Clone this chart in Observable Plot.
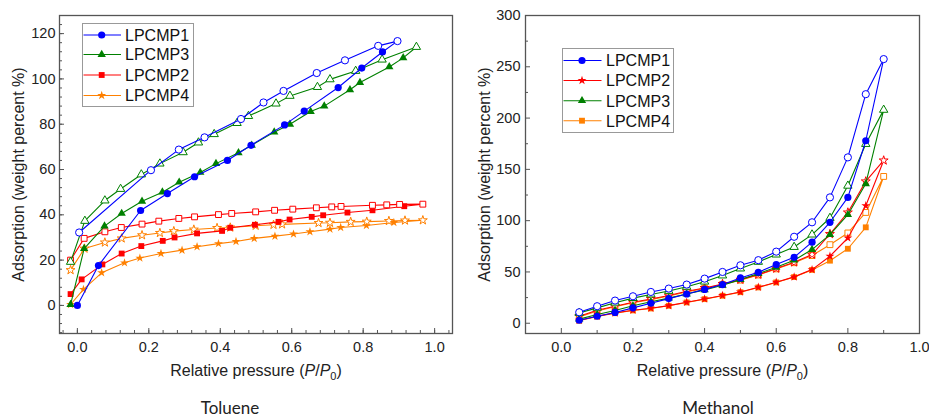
<!DOCTYPE html>
<html><head><meta charset="utf-8">
<script src="https://cdn.jsdelivr.net/npm/d3@7"></script>
<script src="https://cdn.jsdelivr.net/npm/@observablehq/plot@0.6"></script>
<style>
html,body{margin:0;padding:0;background:#fff;}
body{width:929px;height:418px;position:relative;overflow:hidden;font-family:"Liberation Sans",Arial,sans-serif;}
.panel{position:absolute;top:0;}
.caption{position:absolute;top:399px;font-family:Lato,"Open Sans",sans-serif;font-size:17px;line-height:17px;color:#222;transform:translateX(-50%);white-space:nowrap;}
</style></head><body>
<div id="left" class="panel" style="left:0px"></div>
<div id="right" class="panel" style="left:465px"></div>
<div class="caption" style="left:230px">Toluene</div>
<div class="caption" style="left:718px">Methanol</div>
<script>
// ---------------- DATA ----------------
const seriesNames = ["LPCMP1", "LPCMP2", "LPCMP3", "LPCMP4"];
const seriesColors = ["#0000ff", "#ff0000", "#008000", "#ff8000"];

// Toluene panel: [P/P0, adsorption wt%]; adsorption (filled) then desorption (open)
const tol_LPCMP1_ads = [[0.000,0.0],[0.059,17.6],[0.177,41.9],[0.252,49.4],[0.328,56.8],[0.420,64.0],[0.486,70.7],[0.580,79.7],[0.635,85.8],[0.730,96.2],[0.796,104.8],[0.854,111.9]];
const tol_LPCMP1_des = [[0.896,116.7],[0.842,114.6],[0.749,108.2],[0.670,102.6],[0.577,94.7],[0.521,89.6],[0.458,82.3],[0.356,74.2],[0.284,68.8],[0.206,59.7],[0.005,32.2]];
const tol_LPCMP3_ads = [[-0.019,0.4],[0.019,25.1],[0.076,35.0],[0.124,40.6],[0.181,46.0],[0.238,50.0],[0.285,54.4],[0.344,58.7],[0.388,62.6],[0.451,67.4],[0.488,70.7],[0.551,76.5],[0.595,80.0],[0.653,85.6],[0.691,88.0],[0.763,95.2],[0.791,98.4],[0.873,105.3],[0.912,109.3]];
const tol_LPCMP3_des = [[0.949,114.1],[0.853,108.5],[0.779,103.5],[0.707,99.8],[0.672,96.4],[0.595,92.5],[0.556,89.1],[0.479,83.6],[0.447,80.5],[0.383,75.6],[0.339,71.9],[0.296,67.6],[0.231,62.6],[0.179,57.8],[0.121,51.4],[0.077,46.3],[0.021,37.3],[-0.019,19.2]];
const tol_LPCMP2_ads = [[-0.019,5.0],[0.012,11.5],[0.070,18.1],[0.124,22.9],[0.179,26.2],[0.239,28.5],[0.272,30.0],[0.335,31.8],[0.405,32.9],[0.428,34.3],[0.497,35.6],[0.563,36.9],[0.594,37.9],[0.656,39.1],[0.688,39.8],[0.756,41.0],[0.826,42.0],[0.915,43.8]];
const tol_LPCMP2_des = [[0.967,44.7],[0.902,44.6],[0.866,44.4],[0.826,44.2],[0.738,43.7],[0.712,43.5],[0.669,43.1],[0.603,42.5],[0.552,42.0],[0.499,41.3],[0.432,40.6],[0.395,40.1],[0.328,39.1],[0.284,38.4],[0.228,37.2],[0.181,35.9],[0.123,34.4],[0.077,32.5],[0.019,29.6],[-0.019,20.0]];
const tol_LPCMP4_ads = [[-0.019,0.4],[0.017,7.1],[0.068,14.4],[0.132,18.8],[0.175,20.9],[0.234,22.9],[0.293,24.4],[0.335,25.9],[0.395,27.3],[0.444,28.2],[0.495,29.6],[0.553,30.6],[0.605,31.5],[0.651,32.5],[0.707,33.7],[0.737,34.4],[0.809,35.3],[0.886,36.6]];
const tol_LPCMP4_des = [[0.967,37.6],[0.917,37.5],[0.872,37.3],[0.810,37.0],[0.765,36.9],[0.707,36.5],[0.675,36.4],[0.573,35.8],[0.549,35.6],[0.499,35.2],[0.428,34.4],[0.391,34.2],[0.326,33.5],[0.270,32.8],[0.231,32.0],[0.181,31.0],[0.124,29.6],[0.077,27.8],[0.020,25.1],[-0.019,15.6]];

// Methanol panel: relative pressures; adsorption at 0.05..0.85, desorption at 0.05..0.90
const meth_P = [0.05,0.10,0.15,0.20,0.25,0.30,0.35,0.40,0.45,0.50,0.55,0.60,0.65,0.70,0.75,0.80,0.85,0.90];
const meth_LPCMP1_ads = [2.9,6.8,10.5,15.0,19.5,24.0,28.5,33.0,37.7,44.2,49.7,57.2,64.3,79.0,98.4,122.7,177.9];
const meth_LPCMP1_des = [10.7,16.6,22.1,26.3,30.5,33.8,37.7,43.5,50.0,56.5,61.5,69.8,84.3,98.4,122.7,161.7,223.3,257.5];
const meth_LPCMP2_ads = [2.9,6.8,10.1,12.7,14.6,17.2,20.5,23.7,27.0,30.5,35.1,40.0,45.2,52.3,65.3,83.1,114.6];
const meth_LPCMP2_des = [6.8,12.7,16.6,20.5,23.7,27.0,31.2,34.4,38.3,42.5,47.4,53.3,59.4,66.9,87.0,108.0,138.3,158.7];
const meth_LPCMP3_ads = [4.0,8.5,12.5,17.0,21.0,24.5,28.5,32.5,37.0,42.5,48.5,54.5,61.5,71.8,86.4,105.8,136.0];
const meth_LPCMP3_des = [10.0,15.0,20.0,24.5,28.0,31.5,35.5,40.5,46.5,53.3,59.8,66.9,74.3,86.4,102.6,134.0,174.7,208.0];
const meth_LPCMP4_ads = [2.5,6.5,9.8,12.5,14.4,17.0,20.3,23.5,26.8,30.3,34.9,39.8,45.0,52.0,61.0,72.6,93.5];
const meth_LPCMP4_des = [6.0,12.0,16.0,20.0,23.0,26.5,30.5,34.0,37.8,42.0,47.0,53.0,59.0,66.0,76.6,88.0,108.0,143.1];

// Ticks
const tol_xMajor = [0,0.2,0.4,0.6,0.8,1.0];
const tol_xMinor = d3.range(-0.04, 1.05, 0.04).map(v => +v.toFixed(2));
const tol_yMajor = [0,20,40,60,80,100,120];
const tol_yMinor = d3.range(-12, 128, 4);
const meth_xMajor = [0,0.2,0.4,0.6,0.8,1.0];
const meth_xMinor = [0.1,0.3,0.5,0.7,0.9];
const meth_yMajor = [0,50,100,150,200,250,300];
const meth_yMinor = [25,75,125,175,225,275];

const tol_symbols = {LPCMP1: "circle", LPCMP3: "triangle", LPCMP2: "square", LPCMP4: "star"};
const meth_symbols = {LPCMP1: "circle", LPCMP2: "star", LPCMP3: "triangle", LPCMP4: "square"};
const tol_legendOrder = ["LPCMP1", "LPCMP3", "LPCMP2", "LPCMP4"];
const meth_legendOrder = ["LPCMP1", "LPCMP2", "LPCMP3", "LPCMP4"];
const drawOrder = ["LPCMP4", "LPCMP2", "LPCMP3", "LPCMP1"];

// ---------------- BUILD ----------------
const colorOf = Object.fromEntries(seriesNames.map((s, i) => [s, seriesColors[i]]));
const toPts = arr => arr.map(([x, y]) => ({x, y}));
const tolData = {
  LPCMP1: {ads: toPts(tol_LPCMP1_ads), des: toPts(tol_LPCMP1_des)},
  LPCMP2: {ads: toPts(tol_LPCMP2_ads), des: toPts(tol_LPCMP2_des)},
  LPCMP3: {ads: toPts(tol_LPCMP3_ads), des: toPts(tol_LPCMP3_des)},
  LPCMP4: {ads: toPts(tol_LPCMP4_ads), des: toPts(tol_LPCMP4_des)}
};
function methSeries(ads, des) {
  return {
    ads: ads.map((y, i) => ({x: meth_P[i], y})),
    des: des.map((y, i) => ({x: meth_P[i], y})).reverse()
  };
}
const methData = {
  LPCMP1: methSeries(meth_LPCMP1_ads, meth_LPCMP1_des),
  LPCMP2: methSeries(meth_LPCMP2_ads, meth_LPCMP2_des),
  LPCMP3: methSeries(meth_LPCMP3_ads, meth_LPCMP3_des),
  LPCMP4: methSeries(meth_LPCMP4_ads, meth_LPCMP4_des)
};

const frameColor = "#555";
const symbolR = {circle: 3.6, triangle: 3.1, square: 3.3, star: 2.8};

function makePanel(opt) {
  const marks = [];
  for (const s of drawOrder) {
    const d = opt.data[s], c = colorOf[s], sym = opt.symbols[s];
    marks.push(Plot.line(d.ads.concat(d.des), {x: "x", y: "y", stroke: c, strokeWidth: 1.1}));
    marks.push(Plot.dot(d.ads, {x: "x", y: "y", symbol: sym, r: symbolR[sym], fill: c, stroke: "none"}));
    marks.push(Plot.dot(d.des, {x: "x", y: "y", symbol: sym, r: symbolR[sym], fill: "white", stroke: c, strokeWidth: 1}));
  }
  const noText = () => "";
  marks.push(
    Plot.frame({stroke: frameColor, strokeWidth: 1.3}),
    Plot.axisX({ticks: opt.xMajor, tickSize: 5, dy: -5, tickFormat: noText, stroke: frameColor, label: null}),
    Plot.axisX({ticks: opt.xMinor, tickSize: 3, dy: -3, tickFormat: noText, stroke: frameColor, label: null}),
    Plot.axisX({ticks: opt.xMajor, tickSize: 0, tickPadding: 8, tickFormat: d3.format(".1f"), fontSize: 14.5, label: null}),
    Plot.axisY({ticks: opt.yMajor, tickSize: 5, dx: 5, tickFormat: noText, stroke: frameColor, label: null}),
    Plot.axisY({ticks: opt.yMinor, tickSize: 3, dx: 3, tickFormat: noText, stroke: frameColor, label: null}),
    Plot.axisY({ticks: opt.yMajor, tickSize: 0, tickPadding: opt.yPad, tickFormat: d3.format("d"), fontSize: 14.5, label: null}),
    Plot.text(["Adsorption (weight percent %)"], {frameAnchor: "left", textAnchor: "middle", lineAnchor: "middle", rotate: -90, dx: -41, fontSize: 16, fill: "#222"}),
    Plot.text(["Relative pressure (P/P0)"], {frameAnchor: "bottom", textAnchor: "middle", lineAnchor: "middle", dy: 37, fontSize: 16, fill: "#222", className: "xlabel"})
  );
  const svg = Plot.plot({
    width: opt.width, height: 388,
    marginLeft: opt.marginLeft, marginRight: opt.marginRight, marginTop: 15, marginBottom: 55,
    x: {domain: opt.xDomain},
    y: {domain: opt.yDomain},
    style: {fontFamily: "'Liberation Sans', Arial, sans-serif", color: "#222", background: "white", overflow: "visible"},
    marks
  });
  // italic P and subscript 0 in x label
  const t = svg.querySelector(".xlabel text");
  if (t) {
    const ns = "http://www.w3.org/2000/svg";
    t.textContent = "";
    const parts = [["Relative pressure (", {}], ["P", {"font-style": "italic"}], ["/", {}], ["P", {"font-style": "italic"}], ["0", {"font-size": "11", dy: "4"}], [")", {dy: "-4"}]];
    for (const [txt, attrs] of parts) {
      const sp = document.createElementNS(ns, "tspan");
      for (const k in attrs) sp.setAttribute(k, attrs[k]);
      sp.textContent = txt;
      t.appendChild(sp);
    }
  }
  document.getElementById(opt.el).appendChild(svg);
}

makePanel({el: "left", data: tolData, symbols: tol_symbols, width: 465, marginLeft: 59, marginRight: 13,
  xDomain: [-0.05, 1.05], yDomain: [-12.4, 128], xMajor: tol_xMajor, xMinor: tol_xMinor, yMajor: tol_yMajor, yMinor: tol_yMinor, yPad: 4});
makePanel({el: "right", data: methData, symbols: meth_symbols, width: 464, marginLeft: 60, marginRight: 10,
  xDomain: [-0.1, 1.0], yDomain: [-10, 300], xMajor: meth_xMajor, xMinor: meth_xMinor, yMajor: meth_yMajor, yMinor: meth_yMinor, yPad: 5});

// ---------------- LEGENDS ----------------
const d3sym = {circle: d3.symbolCircle, triangle: d3.symbolTriangle, square: d3.symbolSquare, star: d3.symbolStar};
function makeLegend(left, top, w, h, order, symbols, rows, lineX1, lineX2, markX, textX) {
  const svg = d3.select("body").append("svg")
    .attr("style", `position:absolute;left:${left}px;top:${top}px;overflow:visible`)
    .attr("width", w).attr("height", h);
  svg.append("rect").attr("x", 0.5).attr("y", 0.5).attr("width", w - 1).attr("height", h - 1)
    .attr("fill", "white").attr("stroke", "#999").attr("stroke-width", 1);
  order.forEach((s, i) => {
    const cy = rows[i], c = colorOf[s], sym = symbols[s], r = symbolR[sym];
    svg.append("line").attr("x1", lineX1).attr("x2", lineX2).attr("y1", cy).attr("y2", cy)
      .attr("stroke", c).attr("stroke-width", 1.1);
    svg.append("path").attr("d", d3.symbol(d3sym[sym], Math.PI * r * r)())
      .attr("transform", `translate(${markX},${cy})`).attr("fill", c);
    svg.append("text").attr("x", textX).attr("y", cy + 5.8).text(s)
      .attr("font-family", "'Liberation Sans', Arial, sans-serif").attr("font-size", 16).attr("fill", "#111");
  });
}
makeLegend(82, 23, 112, 84, tol_legendOrder, tol_symbols, [12, 31.5, 52, 72.5], 1.5, 39, 19.7, 43);
makeLegend(562, 48, 112, 85, meth_legendOrder, meth_symbols, [12.5, 32.5, 52.7, 72.7], 1.5, 39.5, 20, 44);
</script>
</body></html>
